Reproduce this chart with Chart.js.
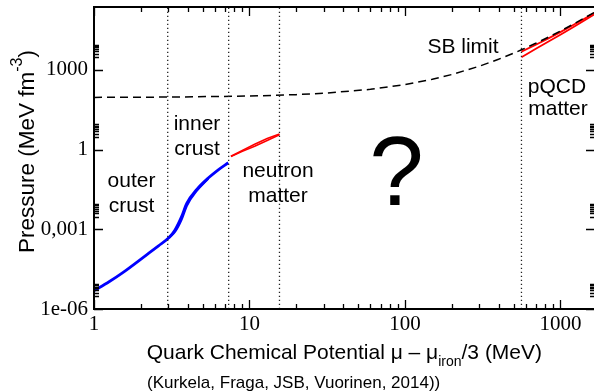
<!DOCTYPE html>
<html>
<head>
<meta charset="utf-8">
<script src="https://cdn.jsdelivr.net/npm/chart.js@4.4.1/dist/chart.umd.min.js"></script>
<style>
  html, body { margin: 0; padding: 0; background: #fff; overflow: hidden; }
  #wrap { width: 596px; height: 392px; }
</style>
</head>
<body>
<div id="wrap"><canvas id="eosChart" width="596" height="392"></canvas></div>
<script>
// axis ranges
var xMin = 1, xMax = 1670;
var yMin = 1e-6, yMax = 2.34e5;

// tick labels
var xTickValues = [1, 10, 100, 1000];
var xTickLabels = ['1', '10', '100', '1000'];
var yTickValues = [1e-6, 1e-3, 1, 1000];
var yTickLabels = ['1e-06', '0,001', '1', '1000'];

// outer + inner crust (blue)
var crustMu = [1, 1.25, 1.54, 2.18, 2.6, 3.04, 3.32, 3.66, 3.95, 4.57, 5.43, 6.3, 7.3];
var crustP = [4.9e-6, 1.06e-5, 2.4e-5, 1.1e-4, 2.4e-4, 4.9e-4, 9.5e-4, 3.0e-3, 9.5e-3, 3.1e-2, 8.5e-2, 0.174, 0.32];
// spread of the inner crust band
var crustAltMu = [3.04, 3.32, 3.66, 3.95, 4.57, 5.43];
var crustAltP = [4.9e-4, 8.2e-4, 2.4e-3, 7.8e-3, 2.8e-2, 8.3e-2];

// neutron matter band (red)
var neutronMu = [7.6, 9, 10.8, 13, 15.6];
var neutronSoftP = [0.55, 0.86, 1.35, 2.2, 3.6];
var neutronStiffP = [0.56, 0.93, 1.6, 2.6, 3.9];

// pQCD band (red)
var pqcdMu = [562, 700, 850, 1000, 1200, 1400, 1670];
var pqcdLowP = [3000, 6380, 12200, 21000, 39600, 67700, 127700];
var pqcdHighP = [4900, 9060, 16100, 26500, 47800, 79500, 145000];

// Stefan-Boltzmann limit (dashed)
var sbMu = [1, 3, 10, 20, 30, 60, 100, 150, 200, 300, 400, 500, 562, 700, 850, 1000, 1200, 1400, 1670];
var sbP = [92.6, 95.0, 103.8, 117.4, 132.3, 185.6, 279.7, 443.2, 669.6, 1370, 2515, 4259, 5721, 10296, 17913, 29135, 51430, 84582, 152000];

// region boundaries (dotted)
var boundaryMu = [2.98, 7.35, 15.6, 562];

var sansFont = "'Liberation Sans', Arial, Helvetica, sans-serif";
var serifFont = "'Liberation Serif', 'Times New Roman', serif";

function toPoints(xs, ys) {
  return xs.map(function(x, i) { return { x: x, y: ys[i] }; });
}

function lineSet(data, color, width, dash) {
  return {
    data: data,
    showLine: true,
    borderColor: color,
    borderWidth: width,
    borderDash: dash || [],
    pointRadius: 0,
    fill: false,
    tension: 0
  };
}

var datasets = [];
boundaryMu.forEach(function(b) {
  datasets.push(lineSet([{ x: b, y: yMin }, { x: b, y: yMax }], '#222', 1.3, [1.3, 2.7]));
});
datasets.push(lineSet(toPoints(sbMu, sbP), '#000', 1.5, [8, 5]));
var crustLine = lineSet(toPoints(crustMu, crustP), '#0000ff', 2.8);
crustLine.cubicInterpolationMode = 'monotone';
datasets.push(crustLine);
var crustAltLine = lineSet(toPoints(crustAltMu, crustAltP), '#0000ff', 2.4);
crustAltLine.cubicInterpolationMode = 'monotone';
datasets.push(crustAltLine);
datasets.push(lineSet(toPoints(neutronMu, neutronSoftP), '#ff0000', 1.6));
datasets.push(lineSet(toPoints(neutronMu, neutronStiffP), '#ff0000', 1.6));
datasets.push(lineSet(toPoints(pqcdMu, pqcdLowP), '#ff0000', 1.8));
datasets.push(lineSet(toPoints(pqcdMu, pqcdHighP), '#ff0000', 1.8));

// frame and inward ticks on all four sides
var frameTicks = {
  id: 'frameTicks',
  afterDatasetsDraw: function(chart) {
    var c = chart.ctx, a = chart.chartArea;
    var xs = chart.scales.x, ys = chart.scales.y;
    c.save();
    c.strokeStyle = '#000';
    c.lineWidth = 1.3;
    c.beginPath();
    // x ticks
    for (var d = 1; d <= 1000; d *= 10) {
      for (var m = 1; m <= 9; m++) {
        var v = d * m;
        if (v > xMax) break;
        var px = Math.round(xs.getPixelForValue(v)) + 0.5;
        var len = m === 1 ? 9 : 5;
        c.moveTo(px, a.bottom); c.lineTo(px, a.bottom - len);
        c.moveTo(px, a.top); c.lineTo(px, a.top + len);
      }
    }
    // y ticks: majors plus minors in the decade above each labelled tick
    yTickValues.forEach(function(t) {
      var py = Math.round(ys.getPixelForValue(t)) + 0.5;
      c.moveTo(a.left, py); c.lineTo(a.left + 9, py);
      c.moveTo(a.right, py); c.lineTo(a.right - 9, py);
      for (var k = 3; k <= 9; k++) {
        var my = Math.round(ys.getPixelForValue(t * k)) + 0.5;
        c.moveTo(a.left, my); c.lineTo(a.left + 5, my);
        c.moveTo(a.right, my); c.lineTo(a.right - 5, my);
      }
    });
    c.stroke();
    c.lineWidth = 2;
    c.strokeRect(a.left, a.top, a.right - a.left, a.bottom - a.top);
    c.restore();
  }
};

// draws pieces of text in a row, with optional raise (super/subscript)
function drawPieces(c, pieces, x, y) {
  pieces.forEach(function(p) {
    c.font = p.size + 'px ' + sansFont;
    c.fillText(p.text, x, y - (p.raise || 0));
    x += c.measureText(p.text).width;
  });
  return x;
}
function piecesWidth(c, pieces) {
  var w = 0;
  pieces.forEach(function(p) {
    c.font = p.size + 'px ' + sansFont;
    w += c.measureText(p.text).width;
  });
  return w;
}

// labels, axis titles and caption
var textLayer = {
  id: 'textLayer',
  afterDraw: function(chart) {
    var c = chart.ctx;
    c.save();
    c.fillStyle = '#000';
    c.textBaseline = 'alphabetic';
    c.textAlign = 'center';
    c.font = '21px ' + sansFont;
    c.fillText('outer', 131.5, 187);
    c.fillText('crust', 131.5, 212);
    c.fillText('inner', 197, 130);
    c.fillText('crust', 197, 155);
    c.fillText('neutron', 278, 177);
    c.fillText('matter', 278, 202);
    c.fillText('SB limit', 463, 53);
    c.fillText('pQCD', 557, 93);
    c.fillText('matter', 558, 115);
    c.font = '98px ' + sansFont;
    c.fillText('?', 396.5, 205);

    // x title
    c.textAlign = 'left';
    drawPieces(c, [
      { text: 'Quark Chemical Potential \u03bc \u2013 \u03bc', size: 21 },
      { text: 'iron', size: 14, raise: -7 },
      { text: '/3 (MeV)', size: 21 }
    ], 146.7, 359);

    // caption
    c.font = '17px ' + sansFont;
    c.fillText('(Kurkela, Fraga, JSB, Vuorinen, 2014))', 147, 388);

    // y title
    var yPieces = [
      { text: 'Pressure (MeV fm', size: 22.5 },
      { text: '-3', size: 16, raise: 12 },
      { text: ')', size: 22.5 }
    ];
    var w = piecesWidth(c, yPieces);
    c.translate(33.5, 151.5);
    c.rotate(-Math.PI / 2);
    drawPieces(c, yPieces, -w / 2, 0);
    c.restore();
  }
};

var ctx = document.getElementById('eosChart').getContext('2d');
var eosChart = new Chart(ctx, {
  type: 'scatter',
  data: { datasets: datasets },
  options: {
    responsive: false,
    animation: false,
    layout: { padding: { top: 7, right: 1, left: 0, bottom: 0 } },
    plugins: {
      legend: { display: false },
      tooltip: { enabled: false }
    },
    scales: {
      x: {
        type: 'logarithmic',
        min: xMin,
        max: xMax,
        grid: { display: false, drawTicks: false },
        border: { display: false },
        afterBuildTicks: function(scale) {
          scale.ticks = xTickValues.map(function(v) { return { value: v }; });
        },
        afterFit: function(scale) {
          scale.height = 83;
          scale.paddingLeft = 0;
          scale.paddingRight = 0;
        },
        ticks: {
          autoSkip: false,
          maxRotation: 0,
          padding: 3,
          color: '#000',
          font: { family: serifFont, size: 21 },
          callback: function(value) {
            var i = xTickValues.indexOf(value);
            return i >= 0 ? xTickLabels[i] : '';
          }
        }
      },
      y: {
        type: 'logarithmic',
        min: yMin,
        max: yMax,
        grid: { display: false, drawTicks: false },
        border: { display: false },
        afterBuildTicks: function(scale) {
          scale.ticks = yTickValues.map(function(v) { return { value: v }; });
        },
        afterFit: function(scale) {
          scale.width = 94;
          scale.paddingTop = 0;
          scale.paddingBottom = 0;
        },
        ticks: {
          autoSkip: false,
          padding: 6,
          color: '#000',
          font: { family: serifFont, size: 21 },
          callback: function(value) {
            var i = yTickValues.indexOf(value);
            return i >= 0 ? yTickLabels[i] : '';
          }
        }
      }
    }
  },
  plugins: [frameTicks, textLayer]
});
</script>
</body>
</html>
